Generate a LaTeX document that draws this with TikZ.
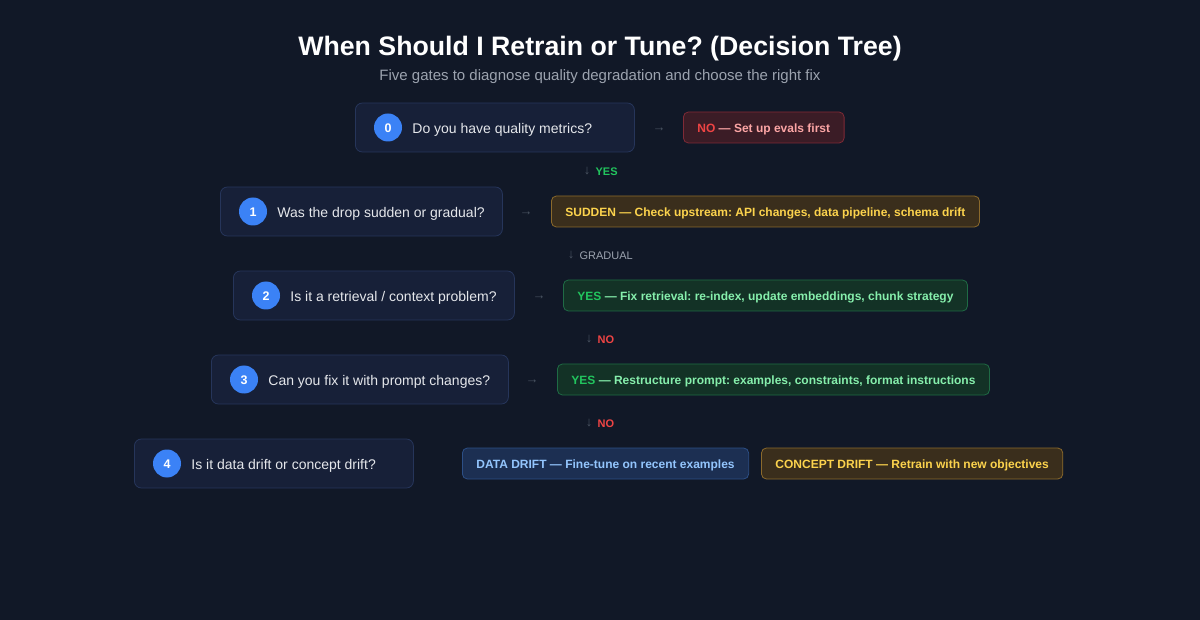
\documentclass[tikz,border=0pt]{standalone}
\usepackage{fontspec}
\setmainfont{Liberation Sans}
\usetikzlibrary{positioning}
\definecolor{bgc}{HTML}{111827}
\definecolor{qfill}{HTML}{172038}
\definecolor{qline}{HTML}{26355A}
\definecolor{numblue}{HTML}{3B82F6}
\definecolor{qtxt}{HTML}{E5E7EB}
\definecolor{subtxt}{HTML}{9CA3AF}
\definecolor{dimarr}{HTML}{4B5563}
\definecolor{nored}{HTML}{EF4444}
\definecolor{redfill}{HTML}{3B1C26}
\definecolor{redline}{HTML}{7F2A36}
\definecolor{redtxt}{HTML}{FCA5A5}
\definecolor{ambfill}{HTML}{3A2E1C}
\definecolor{ambline}{HTML}{8B6A2C}
\definecolor{ambtxt}{HTML}{FCD34D}
\definecolor{yesgreen}{HTML}{22C55E}
\definecolor{grnfill}{HTML}{133226}
\definecolor{grnline}{HTML}{1F6B45}
\definecolor{grntxt}{HTML}{86EFAC}
\definecolor{blufill}{HTML}{1C2F52}
\definecolor{bluline}{HTML}{2C4F86}
\definecolor{blutxt}{HTML}{93C5FD}
\tikzset{
  qbox/.style={draw=qline, fill=qfill, rounded corners=7pt, line width=0.8pt, minimum height=49pt, anchor=west, inner sep=0pt},
  num/.style={circle, fill=numblue, minimum size=28pt, inner sep=0pt, text=white, text height=10pt, text depth=0pt, font=\fontsize{12.5}{15}\selectfont\bfseries},
  qtext/.style={text=qtxt, font=\fontsize{14}{17}\selectfont, inner sep=0pt, text height=12pt, text depth=0pt, anchor=west},
  rbox/.style={rounded corners=5pt, line width=0.8pt, minimum height=31pt, inner xsep=14pt, text height=10.5pt, text depth=0pt, anchor=west, font=\fontsize{12}{14}\selectfont\bfseries},
  redbox/.style={rbox, draw=redline, fill=redfill, text=redtxt},
  ambbox/.style={rbox, draw=ambline, fill=ambfill, text=ambtxt},
  grnbox/.style={rbox, draw=grnline, fill=grnfill, text=grntxt},
  blubox/.style={rbox, draw=bluline, fill=blufill, text=blutxt},
  arr/.style={text=dimarr, font=\fontsize{13}{15}\selectfont, inner sep=0pt},
  lbl/.style={font=\fontsize{11}{13}\selectfont\bfseries, inner sep=0pt, text height=9pt, text depth=0pt, anchor=west}
}
\begin{document}
\frenchspacing
\begin{tikzpicture}[x=1pt,y=1pt]
  \fill[bgc] (0,0) rectangle (1200,-620);
  \useasboundingbox (0,0) rectangle (1200,-620);
  \node[text=white, font=\fontsize{26.7}{32}\selectfont\bfseries, text height=20pt, text depth=0pt] (title) at (600,-46) {When Should I Retrain or Tune? (Decision Tree)};
  \node[text=subtxt, font=\fontsize{15}{18}\selectfont, text height=12pt, text depth=0pt] (sub) at (600,-75) {Five gates to diagnose quality degradation and choose the right fix};
  % gate 0
  \node[qbox, minimum width=279pt] (q0) at (355,-127.5) {};
  \node[num] (n0) at ([xshift=33pt]q0.west) {0};
  \node[qtext, right=10pt of n0] (t0) {Do you have quality metrics?};
  \node[arr] (a0) at (659,-130) {→};
  \node[redbox] (r0) at (683,-127.5) {{\color{nored}NO} — Set up evals first};
  \node[arr] (d0) at (587,-171) {↓};
  \node[lbl, text=yesgreen, right=5pt of d0] (l0) {YES};
  % gate 1
  \node[qbox, minimum width=282pt] (q1) at (220,-211.5) {};
  \node[num] (n1) at ([xshift=33pt]q1.west) {1};
  \node[qtext, right=10pt of n1] (t1) {Was the drop sudden or gradual?};
  \node[arr] (a1) at (526,-214) {→};
  \node[ambbox] (r1) at (551,-211.5) {SUDDEN — Check upstream: API changes, data pipeline, schema drift};
  \node[arr] (d1) at (571,-255) {↓};
  \node[lbl, text=subtxt, font=\fontsize{11}{13}\selectfont, right=5pt of d1] (l1) {GRADUAL};
  % gate 2
  \node[qbox, minimum width=281pt] (q2) at (233,-295.5) {};
  \node[num] (n2) at ([xshift=33pt]q2.west) {2};
  \node[qtext, right=10pt of n2] (t2) {Is it a retrieval / context problem?};
  \node[arr] (a2) at (539,-298) {→};
  \node[grnbox] (r2) at (563,-295.5) {{\color{yesgreen}YES} — Fix retrieval: re-index, update embeddings, chunk strategy};
  \node[arr] (d2) at (589,-339) {↓};
  \node[lbl, text=nored, right=5pt of d2] (l2) {NO};
  % gate 3
  \node[qbox, minimum width=297pt] (q3) at (211,-379.5) {};
  \node[num] (n3) at ([xshift=33pt]q3.west) {3};
  \node[qtext, right=10pt of n3] (t3) {Can you fix it with prompt changes?};
  \node[arr] (a3) at (532,-382) {→};
  \node[grnbox] (r3) at (557,-379.5) {{\color{yesgreen}YES} — Restructure prompt: examples, constraints, format instructions};
  \node[arr] (d3) at (589,-423) {↓};
  \node[lbl, text=nored, right=5pt of d3] (l3) {NO};
  % gate 4
  \node[qbox, minimum width=279pt] (q4) at (134,-463.5) {};
  \node[num] (n4) at ([xshift=33pt]q4.west) {4};
  \node[qtext, right=10pt of n4] (t4) {Is it data drift or concept drift?};
  \node[blubox] (r4a) at (462,-463.5) {DATA DRIFT — Fine-tune on recent examples};
  \node[ambbox, right=12pt of r4a] (r4b) {CONCEPT DRIFT — Retrain with new objectives};
\end{tikzpicture}
\end{document}
